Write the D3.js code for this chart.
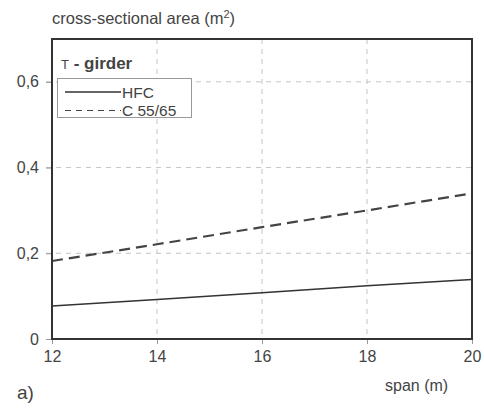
<!DOCTYPE html>
<html>
<head>
<meta charset="utf-8">
<script src="https://cdn.jsdelivr.net/npm/d3@7"></script>
<style>
  body { margin: 0; background: #fff; }
  text { font-family: "Liberation Sans", Arial, sans-serif; fill: #444; }
</style>
</head>
<body>
<div id="chart"></div>
<script>
// data
const spans = [12, 14, 16, 18, 20];
const hfcArea = [0.077, 0.092, 0.108, 0.124, 0.139];
const c5565Area = [0.182, 0.221, 0.261, 0.300, 0.340];
const yTicks = [0, 0.2, 0.4, 0.6];
const yTickLabels = ["0", "0,2", "0,4", "0,6"];

const width = 484, height = 408;
const margin = { top: 39, right: 12, bottom: 69, left: 52 };

const svg = d3.select("#chart").append("svg")
    .attr("width", width)
    .attr("height", height);

const x = d3.scaleLinear().domain([12, 20]).range([margin.left, width - margin.right]);
const y = d3.scaleLinear().domain([0, 0.7]).range([height - margin.bottom, margin.top]);

// grid
svg.append("g").selectAll("line.gx")
    .data(spans.slice(1, -1))
    .enter().append("line")
    .attr("x1", d => x(d)).attr("x2", d => x(d))
    .attr("y1", y(0.7)).attr("y2", y(0))
    .attr("stroke", "#c4c4c4").attr("stroke-width", 1)
    .attr("stroke-dasharray", "5,5");

svg.append("g").selectAll("line.gy")
    .data(yTicks.slice(1))
    .enter().append("line")
    .attr("x1", x(12) - 6).attr("x2", x(20))
    .attr("y1", d => y(d)).attr("y2", d => y(d))
    .attr("stroke", "#c4c4c4").attr("stroke-width", 1)
    .attr("stroke-dasharray", "5,5");

// axes
const xAxis = svg.append("g")
    .attr("transform", `translate(0,${y(0)})`)
    .call(d3.axisBottom(x).tickValues(spans).tickSize(5).tickPadding(7));
const yAxis = svg.append("g")
    .attr("transform", `translate(${x(12)},0)`)
    .call(d3.axisLeft(y).tickValues(yTicks).tickFormat((d, i) => yTickLabels[i]).tickSize(6).tickPadding(7));

[xAxis, yAxis].forEach(a => {
    a.select(".domain").remove();
    a.selectAll(".tick line").attr("stroke", "#999");
    a.selectAll("text").attr("font-size", 16).attr("fill", "#444");
});

// lines
const line = d3.line().x((d, i) => x(spans[i])).y(d => y(d));

svg.append("path")
    .datum(hfcArea)
    .attr("d", line)
    .attr("fill", "none")
    .attr("stroke", "#333")
    .attr("stroke-width", 1.5);

svg.append("path")
    .datum(c5565Area)
    .attr("d", line)
    .attr("fill", "none")
    .attr("stroke", "#444")
    .attr("stroke-width", 2.2)
    .attr("stroke-dasharray", "11,6");

// frame
svg.append("rect")
    .attr("x", x(12)).attr("y", y(0.7))
    .attr("width", x(20) - x(12)).attr("height", y(0) - y(0.7))
    .attr("fill", "none")
    .attr("stroke", "#333")
    .attr("stroke-width", 2);

// legend
const legTitle = svg.append("text")
    .attr("x", 61).attr("y", 69)
    .attr("font-size", 17).attr("font-weight", "bold");
legTitle.append("tspan").attr("font-size", 13).attr("font-weight", "normal").text("T");
legTitle.append("tspan").text(" - girder");

svg.append("rect")
    .attr("x", 57.5).attr("y", 78.5)
    .attr("width", 134).attr("height", 39)
    .attr("fill", "#fff")
    .attr("stroke", "#999");

svg.append("line")
    .attr("x1", 65).attr("x2", 121).attr("y1", 92).attr("y2", 92)
    .attr("stroke", "#333").attr("stroke-width", 1.5);
svg.append("text")
    .attr("x", 122).attr("y", 97.5)
    .attr("font-size", 15.5)
    .text("HFC");

svg.append("line")
    .attr("x1", 65).attr("x2", 121).attr("y1", 110.5).attr("y2", 110.5)
    .attr("stroke", "#444").attr("stroke-width", 1.2)
    .attr("stroke-dasharray", "6,5");
svg.append("text")
    .attr("x", 122).attr("y", 116)
    .attr("font-size", 15.5)
    .text("C 55/65");

// titles
const yTitle = svg.append("text")
    .attr("x", 52).attr("y", 24)
    .attr("font-size", 16.5);
yTitle.append("tspan").text("cross-sectional area (m");
yTitle.append("tspan").attr("dy", -6).attr("font-size", 11).text("2");
yTitle.append("tspan").attr("dy", 6).text(")");

svg.append("text")
    .attr("x", 385).attr("y", 391)
    .attr("font-size", 16)
    .text("span (m)");

svg.append("text")
    .attr("x", 17).attr("y", 399)
    .attr("font-size", 19)
    .attr("fill", "#333")
    .text("a)");
</script>
</body>
</html>
